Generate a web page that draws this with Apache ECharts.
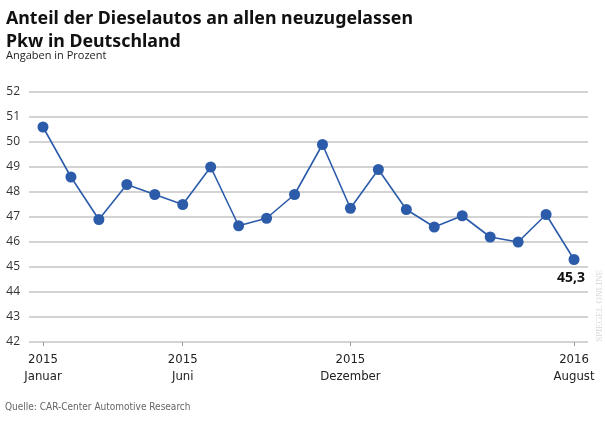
<!DOCTYPE html>
<html><head><meta charset="utf-8">
<script src="https://cdn.jsdelivr.net/npm/echarts@6/dist/echarts.min.js"></script>
<style>html,body{margin:0;padding:0;background:#fff}#c{width:605px;height:427px}</style>
</head><body><div id="c"></div>
<script>
var years = ["2015","2015","2015","2015","2015","2015","2015","2015","2015","2015","2015","2015","2016","2016","2016","2016","2016","2016","2016","2016"];
var months = ["Januar","Februar","März","April","Mai","Juni","Juli","August","September","Oktober","November","Dezember","Januar","Februar","März","April","Mai","Juni","Juli","August"];
var values = [50.6,48.6,46.9,48.3,47.9,47.5,49.0,46.65,46.95,47.9,49.9,47.35,48.9,47.3,46.6,47.05,46.2,46.0,47.1,45.3];
var labeledIdx = [0,5,11,19];
var yTicks = {min:42, max:52, interval:1};

var categories = years.map(function(y,i){return y+"\n"+months[i];});
var chart = echarts.init(document.getElementById('c'));
var narrow = '"Liberation Sans Narrow","DejaVu Sans Condensed",sans-serif';
chart.setOption({
  animation:false,
  title:[
    {text:"Anteil der Dieselautos an allen neuzugelassen\nPkw in Deutschland", left:6, top:7, padding:0,
     textStyle:{fontFamily:'"Noto Sans",sans-serif', fontWeight:'bold', fontSize:17.8, lineHeight:23, color:'#111'}},
    {text:"Angaben in Prozent", left:6, top:50, padding:0, textStyle:{fontFamily:'"Open Sans",sans-serif', fontWeight:'normal', fontSize:11, color:'#222'}},
    {text:"Quelle: CAR-Center Automotive Research", left:5, top:402, padding:0, textStyle:{fontFamily:narrow, fontWeight:'normal', fontSize:10, color:'#666'}}
  ],
  graphic:[{type:'text', left:595, top:270, rotation:Math.PI/2,
    style:{text:'SPIEGEL ONLINE', font:'9px serif', fill:'#d8d8d8'}}],
  grid:{left:29, right:17, top:92, bottom:85},
  xAxis:{type:'category', data:categories, boundaryGap:true,
    axisLine:{show:false},
    axisTick:{show:true, alignWithLabel:true, length:4, lineStyle:{color:'#999'},
      interval:function(i){return labeledIdx.indexOf(i)>=0;}},
    axisLabel:{interval:function(i){return labeledIdx.indexOf(i)>=0;}, margin:9,
      fontFamily:narrow, fontSize:13, color:'#222', lineHeight:17}
  },
  yAxis:{type:'value', min:yTicks.min, max:yTicks.max, interval:yTicks.interval,
    axisLine:{show:false}, axisTick:{show:false},
    axisLabel:{fontFamily:'"Open Sans",sans-serif', fontSize:12, color:'#333', margin:9},
    splitLine:{lineStyle:{color:'#c4c4c4', width:1.5}}
  },
  series:[{type:'line', data:values.map(function(v,i){
      if(i===values.length-1) return {value:v, label:{show:true, position:'bottom', distance:6,
        formatter:function(p){return String(p.value).replace('.',',');},
        fontFamily:'"Open Sans",sans-serif', fontWeight:'bold', fontSize:14, color:'#111', offset:[-3,0]}};
      return v;}),
    symbol:'circle', symbolSize:11, showSymbol:true,
    itemStyle:{color:'#2b5ba9'}, lineStyle:{color:'#2b5ba9', width:1.6}
  }]
});
</script></body></html>
